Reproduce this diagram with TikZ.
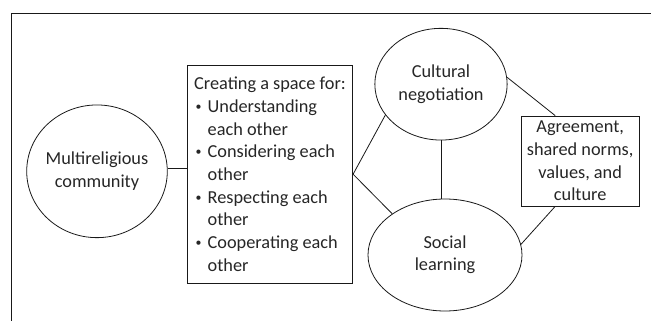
\documentclass[tikz,border=0pt]{standalone}
\usepackage{fontspec}
\setmainfont{Carlito}
\usetikzlibrary{shapes.geometric,calc}
\newcommand\zwtext[1]{\makebox[0pt]{\begin{tabular}{@{}c@{}}#1\end{tabular}}}
\newcommand\bitem[1]{\makebox[13.5pt][l]{\hspace{1.5pt}\raisebox{2pt}{\scalebox{0.65}{\textbullet}}}#1}
\newcommand\cont[1]{\hspace*{13.5pt}#1}
\begin{document}
\begin{tikzpicture}[x=1pt,y=-1pt,
  every node/.style={text=black!85, font=\fontsize{18.3}{22.7}\selectfont},
  oval/.style={draw=black!90, ellipse, inner sep=0pt, line width=0.8pt},
  boxnode/.style={draw=black!90, rectangle, inner sep=0pt, line width=0.8pt},
  link/.style={draw=black!90, line width=0.8pt}]
\useasboundingbox (0,0) rectangle (651,321);
\draw[link] (11.7,321) |- (651,13.3);
\node[oval, minimum width=140.6pt, minimum height=132.7pt] (multi) at (97,171.3) {\zwtext{Multireligious\\community}};
\node[boxnode, minimum width=165.4pt, minimum height=218.3pt, align=left] (space) at (270,174.2)
  {Creating a space for:\\
   \bitem{Understanding}\\
   \cont{each other}\\
   \bitem{Considering each}\\
   \cont{other}\\
   \bitem{Respecting each}\\
   \cont{other}\\
   \bitem{Cooperating each}\\
   \cont{other}};
\node[oval, minimum width=132.3pt, minimum height=111.7pt] (cult) at (441,84.2) {\zwtext{Cultural\\negotiation}};
\node[oval, minimum width=154pt, minimum height=112pt] (soc) at (445,255) {\zwtext{Social\\learning}};
\node[boxnode, minimum width=118.3pt, minimum height=90pt, align=center] (agr) at (580.2,161) {Agreement,\\shared norms,\\values, and\\culture};
\draw[link] (multi.2.9) -- (multi.2.9 -| space.west);
\draw[link] (space.east) -- (cult.209);
\draw[link] (space.east) -- (soc.142.6);
\draw[link] (cult.south) -- (cult.south |- soc.north);
\draw[link] (cult.6.3) -- ($(agr.north west)!0.29!(agr.north east)$);
\draw[link] (soc.8.3) -- ($(agr.south west)!0.29!(agr.south east)$);
\end{tikzpicture}
\end{document}
